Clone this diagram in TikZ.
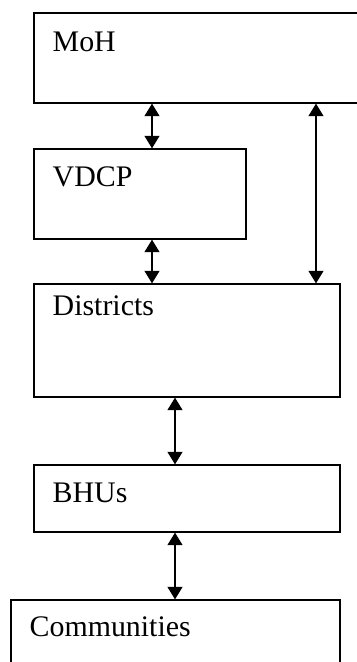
\documentclass[tikz,border=0pt]{standalone}
\usepackage{fontspec}
\setmainfont{Liberation Serif}
\usetikzlibrary{arrows.meta}

\tikzset{
  box/.style={draw, line width=0.75pt, inner sep=0pt},
  lbl/.style={anchor=base west, inner sep=0pt, font=\fontsize{17}{20}\selectfont},
  link/.style={line width=0.6pt, {Triangle[width=0.3cm, length=0.25cm]}-{Triangle[width=0.3cm, length=0.25cm]}}
}

\begin{document}
\begin{tikzpicture}[x=0.02cm, y=-0.02cm]
	\useasboundingbox (0,0) rectangle (356,662);

	% Boksene
	\node[box, minimum width=6.52cm, minimum height=1.80cm] (moh) at (197,58) {};
	\node[box, minimum width=4.24cm, minimum height=1.80cm] (vdcp) at (140,194) {};
	\node[box, minimum width=6.12cm, minimum height=2.26cm] (dist) at (187,340.5) {};
	\node[box, minimum width=6.12cm, minimum height=1.34cm] (bhu) at (187,498.5) {};
	\node[box, minimum width=6.58cm, minimum height=1.40cm] (comm) at (175.5,635) {};

	% Tekstene
	\node[lbl] (mohText) at ([shift={(19,39)}]moh.north west) {MoH};
	\node[lbl] (vdcpText) at ([shift={(19,38)}]vdcp.north west) {VDCP};
	\node[lbl] (distText) at ([shift={(19,32)}]dist.north west) {Districts};
	\node[lbl] (bhuText) at ([shift={(19,38)}]bhu.north west) {BHUs};
	\node[lbl] (commText) at ([shift={(19,37)}]comm.north west) {Communities};

	% Pilene
	\coordinate (left) at (152,0);
	\coordinate (right) at (316,0);
	\coordinate (mid) at (175,0);
	\draw[link] (moh.south -| left) -- (vdcp.north -| left);
	\draw[link] (vdcp.south -| left) -- (dist.north -| left);
	\draw[link] (moh.south -| right) -- (dist.north -| right);
	\draw[link] (dist.south -| mid) -- (bhu.north -| mid);
	\draw[link] (bhu.south -| mid) -- (comm.north -| mid);
\end{tikzpicture}
\end{document}
